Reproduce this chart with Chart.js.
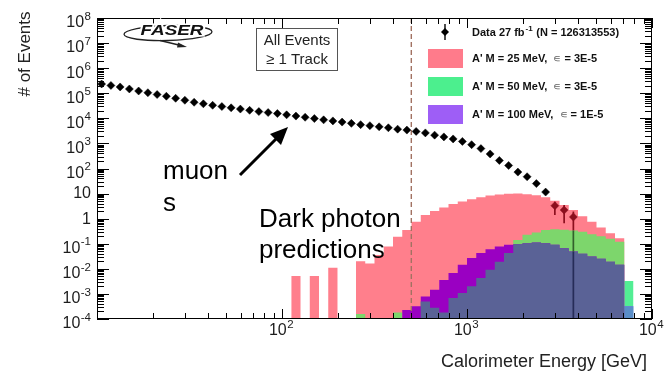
<!DOCTYPE html>
<html><head><meta charset="utf-8">
<script src="https://cdn.jsdelivr.net/npm/chart.js@4.4.1/dist/chart.umd.min.js"></script>
<style>html,body{margin:0;padding:0;background:#fff;}#wrap{width:664px;height:375px;}</style>
</head><body><div id="wrap"><canvas id="c" width="664" height="375"></canvas></div>
<script>
// ---------- DATA ----------
const dataEnergyGeV = [10.59, 11.89, 13.34, 14.96, 16.79, 18.84, 21.13, 23.71, 26.61, 29.85, 33.50, 37.58, 42.17, 47.32, 53.09, 59.57, 66.83, 74.99, 84.14, 94.41, 105.9, 118.9, 133.4, 149.6, 167.9, 188.4, 211.3, 237.1, 266.1, 298.5, 335.0, 375.8, 421.7, 473.2, 530.9, 595.7, 668.3, 749.9, 841.4, 944.1, 1059, 1189, 1334, 1496, 1679, 1884, 2113, 2371, 2661, 2985, 3350, 3758];
const dataEvents = [234000, 204000, 178000, 148000, 123000, 105000, 89000, 76000, 63000, 52500, 43600, 38000, 33100, 29500, 26300, 23400, 20900, 18600, 17000, 15500, 13800, 12300, 11000, 9800, 8700, 7900, 7100, 6300, 5600, 5100, 4600, 4200, 3700, 3400, 3000, 2630, 2140, 1820, 1510, 1200, 890, 620, 380, 209, 132, 72, 47, 25, 11.5, 3.3, 2.2, 1.17];
const dataErrUp = [0,0,0,0,0,0,0,0,0,0, 0,0,0,0,0,0,0,0,0,0, 0,0,0,0,0,0,0,0,0,0, 0,0,0,0,0,0,0,0,0,0, 0,0,0,0,0,0,0,0,0, 1.4, 1.3, 0.75];
const dataErrDown = [0,0,0,0,0,0,0,0,0,0, 0,0,0,0,0,0,0,0,0,0, 0,0,0,0,0,0,0,0,0,0, 0,0,0,0,0,0,0,0,0,0, 0,0,0,0,0,0,0,0,0, 1.9, 1.55, 1.17];

// prediction histogram bin edges (GeV)
const binEdges = [112.2, 125.9, 141.3, 158.5, 177.8, 199.5, 223.9, 251.2, 281.8, 316.2, 354.8, 398.1, 446.7, 501.2, 562.3, 631.0, 707.9, 794.3, 891.3, 1000, 1122, 1259, 1413, 1585, 1778, 1995, 2239, 2512, 2818, 3162, 3548, 3981, 4467, 5012, 5623, 6310, 7079, 7943];
const pred25MeV = [0.0052, 0, 0.0052, 0, 0.011, 0, 0, 0.020, 0.0165, 0.036, 0.078, 0.19, 0.35, 0.76, 1.4, 2.0, 2.8, 3.8, 4.8, 6.0, 7.2, 8.3, 9.1, 9.8, 10.0, 9.5, 8.5, 7.1, 5.2, 3.5, 2.2, 1.26, 0.76, 0.44, 0.26, 0.166, 0];
const pred50MeV = [0, 0, 0, 0, 0, 0, 0, 1.6e-4, 0, 0, 0, 1.8e-4, 0, 0, 5.0e-4, 2.8e-4, 1.8e-4, 6.8e-4, 1.1e-3, 2.0e-3, 4.3e-3, 9.1e-3, 0.019, 0.043, 0.14, 0.23, 0.28, 0.35, 0.38, 0.36, 0.34, 0.30, 0.24, 0.20, 0.16, 0.12, 3.3e-3];
const pred100MeV = [0, 0, 0, 0, 0, 0, 0, 0, 0, 0, 0, 0, 2.3e-4, 3.2e-4, 7.9e-4, 1.45e-3, 3.6e-3, 6.8e-3, 0.0145, 0.027, 0.043, 0.060, 0.078, 0.091, 0.095, 0.105, 0.112, 0.105, 0.091, 0.066, 0.049, 0.040, 0.031, 0.025, 0.019, 0.0145, 3.2e-4];

const cutEnergy = 500;
const yTickExps = [8, 7, 6, 5, 4, 3, 2, 1, 0, -1, -2, -3, -4];
const xTickExps = [2, 3, 4];
const legendLabels = ["Data 27 fb", "A' M = 25 MeV,", "A' M = 50 MeV,", "A' M = 100 MeV,"];
const legendEps = ["3E-5", "3E-5", "1E-5"];

// ---------- STYLE ----------
const COL = {pink:'#ff7f8c', green:'#7dd66c', mint:'#52ee94', magenta:'#9a00c2', violet:'#9e5ef6', slate:'#5a6296', steel:'#5a8ec8'};
const LEG = {pink:'#ff7b8b', green:'#4cef8e', violet:'#9e5ef6'};
const F = (s, w) => `${w||''} ${s}px "Liberation Sans", Arial, sans-serif`;
const EMPTY = 1e-9;

function histPoints(vals){
  const pts = [];
  for (let i = 0; i < vals.length; i++) pts.push({x: binEdges[i], y: vals[i] > 0 ? vals[i] : EMPTY});
  const last = vals[vals.length-1];
  pts.push({x: binEdges[vals.length], y: last > 0 ? last : EMPTY});
  return pts;
}
const withPink = v => v.map((y,i) => pred25MeV[i] > 0 ? y : 0);
const noPink = v => v.map((y,i) => pred25MeV[i] > 0 ? 0 : y);
const overlap = pred50MeV.map((g,i) => Math.min(g, pred100MeV[i]));
function histDS(label, vals, color, order){
  return {label, data: histPoints(vals), stepped: 'before', fill: 'start', backgroundColor: color,
          borderColor: 'rgba(0,0,0,0)', borderWidth: 0, pointRadius: 0, pointHoverRadius: 0, order};
}
function binIndex(E){
  for (let i = 0; i < binEdges.length-1; i++) if (E >= binEdges[i] && E < binEdges[i+1]) return i;
  return -1;
}
function colorAt(i, v){
  if (i < 0) return '#000';
  const p = pred25MeV[i], g = pred50MeV[i], q = pred100MeV[i];
  if (v > p) return '#000';
  if (v > Math.max(g,q)) return '#8c0f1e';
  if (v > Math.min(g,q)) return g > q ? '#33602c' : '#4a0066';
  return '#262c58';
}
const pointColors = dataEvents.map((v,k) => colorAt(binIndex(dataEnergyGeV[k]), v));

const DATA_IDX = 7;
const decor = {
  id: 'decor',
  beforeDatasetDraw(chart, args){
    if (args.index !== DATA_IDX) return;
    const ctx = chart.ctx, a = chart.chartArea, xs = chart.scales.x, ys = chart.scales.y;
    ctx.save();
    ctx.beginPath(); ctx.rect(a.left, a.top, a.right-a.left, a.bottom-a.top); ctx.clip();
    const xc = xs.getPixelForValue(cutEnergy);
    ctx.setLineDash([5,3]); ctx.strokeStyle = '#a27262'; ctx.lineWidth = 1.4;
    ctx.beginPath(); ctx.moveTo(xc, a.top); ctx.lineTo(xc, a.bottom); ctx.stroke();
    ctx.setLineDash([]);
    ctx.lineWidth = 1.7;
    dataEvents.forEach((v,k) => {
      const up = dataErrUp[k], dn = dataErrDown[k];
      if (!up && !dn) return;
      const i = binIndex(dataEnergyGeV[k]);
      const hi = v + up, lo = v - dn;
      const x = xs.getPixelForValue(dataEnergyGeV[k]);
      const cuts = [hi];
      if (i >= 0) {
        [pred25MeV[i], Math.max(pred50MeV[i], pred100MeV[i]), Math.min(pred50MeV[i], pred100MeV[i])]
          .forEach(L => { if (L > 0 && L < hi && L > lo) cuts.push(L); });
      }
      cuts.sort((p,q) => q-p);
      cuts.push(lo);
      for (let j = 0; j < cuts.length-1; j++){
        const t = cuts[j], b = cuts[j+1];
        const yt = ys.getPixelForValue(t), yb = b > 0 ? ys.getPixelForValue(b) : a.bottom;
        const mid = b > 0 ? Math.sqrt(t*b) : t*0.5;
        ctx.strokeStyle = colorAt(i, mid);
        ctx.beginPath(); ctx.moveTo(x, yt); ctx.lineTo(x, yb); ctx.stroke();
      }
    });
    ctx.restore();
  },
  afterDraw(chart){
    const ctx = chart.ctx, a = chart.chartArea, xs = chart.scales.x, ys = chart.scales.y;
    ctx.save();
    ctx.strokeStyle = '#000'; ctx.lineWidth = 1;
    ctx.strokeRect(a.left+0.5, a.top+0.5, a.right-a.left-1, a.bottom-a.top-1);
    ctx.beginPath();
    for (let e = 1; e <= 4; e++) for (let m = 1; m <= 9; m++){
      const v = m*Math.pow(10,e); if (v < 10 || v > 10000) continue;
      const x = Math.round(xs.getPixelForValue(v)) + 0.5;
      const L = m === 1 ? 10 : 6;
      ctx.moveTo(x, a.bottom); ctx.lineTo(x, a.bottom-L);
      ctx.moveTo(x, a.top); ctx.lineTo(x, a.top+L);
    }
    for (let e = -4; e <= 8; e++) for (let m = 1; m <= 9; m++){
      const v = m*Math.pow(10,e); if (v > 1e8*1.0001) continue;
      const y = Math.round(ys.getPixelForValue(v)) + 0.5;
      const L = m === 1 ? 12 : 7;
      ctx.moveTo(a.left, y); ctx.lineTo(a.left+L, y);
      ctx.moveTo(a.right, y); ctx.lineTo(a.right-L, y);
    }
    ctx.stroke();

    ctx.fillStyle = '#1c1c1c'; ctx.textBaseline = 'middle';
    const R = a.left - 6;
    yTickExps.forEach(e => {
      const y = ys.getPixelForValue(Math.pow(10, e));
      if (e === 0 || e === 1){
        ctx.font = F(16); ctx.textAlign = 'right';
        ctx.fillText(e === 0 ? '1' : '10', R, y+0.5);
      } else {
        const es = String(e);
        ctx.font = F(11.5); const we = ctx.measureText(es).width;
        ctx.textAlign = 'left'; ctx.fillText(es, R-we, y-1.5);
        ctx.font = F(16); ctx.textAlign = 'right'; ctx.fillText('10', R-we-0.5, y+5);
      }
    });
    xTickExps.forEach(e => {
      const x = xs.getPixelForValue(Math.pow(10, e));
      ctx.font = F(16); const wb = ctx.measureText('10').width;
      ctx.font = F(11.5); const we = ctx.measureText(String(e)).width;
      const s = x - (wb+we)/2 - 1;
      ctx.textAlign = 'left';
      ctx.font = F(16); ctx.fillText('10', s, a.bottom+12);
      ctx.font = F(11.5); ctx.fillText(String(e), s+wb+0.5, a.bottom+6);
    });
    ctx.font = F(18); ctx.textAlign = 'right'; ctx.fillStyle = '#222';
    ctx.fillText('Calorimeter Energy [GeV]', 647, 362);
    ctx.save(); ctx.translate(25, 54); ctx.rotate(-Math.PI/2);
    ctx.font = F(17); ctx.textAlign = 'center'; ctx.fillText('# of Events', 0, 0);
    ctx.restore();

    // legend
    ctx.fillStyle = '#000'; ctx.strokeStyle = '#000'; ctx.lineWidth = 1.4;
    ctx.beginPath(); ctx.moveTo(445, 24); ctx.lineTo(445, 40); ctx.stroke();
    ctx.beginPath(); ctx.moveTo(445, 28); ctx.lineTo(449, 32); ctx.lineTo(445, 36); ctx.lineTo(441, 32); ctx.closePath(); ctx.fill();
    const lx = 472;
    ctx.textAlign = 'left'; ctx.textBaseline = 'middle'; ctx.fillStyle = '#111';
    ctx.font = F(11, 'bold'); ctx.fillText(legendLabels[0], lx, 33);
    const w = ctx.measureText(legendLabels[0]).width;
    ctx.font = F(8, 'bold'); ctx.fillText('-1', lx+w+1, 29);
    const w2 = ctx.measureText('-1').width;
    ctx.font = F(11, 'bold'); ctx.fillText(' (N = 126313553)', lx+w+w2+1.5, 33);
    const sw = [LEG.pink, LEG.green, LEG.violet];
    const rowsY = [59, 87, 115];
    for (let r = 0; r < 3; r++){
      ctx.fillStyle = sw[r]; ctx.fillRect(428, rowsY[r]-10, 35, 19);
      ctx.fillStyle = '#111'; ctx.font = F(11, 'bold');
      const t1 = legendLabels[r+1] + '  ';
      ctx.fillText(t1, lx, rowsY[r]);
      let x2 = lx + ctx.measureText(t1).width;
      ctx.fillStyle = '#666'; ctx.font = F(10.5); ctx.fillText('\u220A', x2, rowsY[r]);
      x2 += ctx.measureText('\u220A').width;
      ctx.fillStyle = '#111'; ctx.font = F(11, 'bold'); ctx.fillText(' = ' + legendEps[r], x2, rowsY[r]);
    }

    // FASER logo
    ctx.strokeStyle = '#222'; ctx.lineWidth = 1.3;
    ctx.beginPath(); ctx.ellipse(168, 33, 44, 7.5, -0.03, 0, Math.PI*2); ctx.stroke();
    ctx.beginPath(); ctx.moveTo(160, 40.5); ctx.lineTo(183, 46); ctx.stroke();
    ctx.fillStyle = '#222';
    ctx.beginPath(); ctx.moveTo(187, 47); ctx.lineTo(178, 42.5); ctx.lineTo(177, 47.5); ctx.closePath(); ctx.fill();
    ctx.save(); ctx.translate(172, 31.5); ctx.scale(1.35, 1);
    ctx.font = F(14, 'bold italic'); ctx.textAlign = 'center'; ctx.textBaseline = 'middle';
    ctx.lineWidth = 3; ctx.strokeStyle = '#fff'; ctx.strokeText('FASER', 0, 0);
    ctx.fillStyle = '#111'; ctx.fillText('FASER', 0, 0);
    ctx.restore();

    // selection box
    ctx.strokeStyle = '#555'; ctx.lineWidth = 1;
    ctx.strokeRect(256.5, 28.5, 81, 42);
    ctx.fillStyle = '#222'; ctx.font = F(15); ctx.textAlign = 'center'; ctx.textBaseline = 'middle';
    ctx.fillText('All Events', 297, 40.5);
    ctx.fillText('\u2265 1 Track', 297, 59.5);

    // annotations
    ctx.fillStyle = '#000'; ctx.font = F(26); ctx.textAlign = 'left'; ctx.textBaseline = 'alphabetic';
    ctx.fillText('muon', 163, 179);
    ctx.fillText('s', 163, 211);
    ctx.fillText('Dark photon', 259, 227);
    ctx.fillText('predictions', 259, 258);
    ctx.strokeStyle = '#000'; ctx.lineWidth = 3;
    ctx.beginPath(); ctx.moveTo(240, 175); ctx.lineTo(279, 136); ctx.stroke();
    ctx.beginPath(); ctx.moveTo(288, 127); ctx.lineTo(270, 134); ctx.lineTo(281, 145); ctx.closePath(); ctx.fill();
    ctx.restore();
  }
};

new Chart(document.getElementById('c'), {
  type: 'line',
  data: { datasets: [
    histDS('A\' M = 25 MeV', pred25MeV, COL.pink, 10),
    histDS('A\' M = 50 MeV', withPink(pred50MeV), COL.green, 9),
    histDS('A\' M = 50 MeV (tail)', noPink(pred50MeV), COL.mint, 9),
    histDS('A\' M = 100 MeV', withPink(pred100MeV), COL.magenta, 8),
    histDS('A\' M = 100 MeV (tail)', noPink(pred100MeV), COL.violet, 8),
    histDS('overlap', withPink(overlap), COL.slate, 7),
    histDS('overlap (tail)', noPink(overlap), COL.steel, 7),
    { label: 'Data', data: dataEnergyGeV.map((e,k) => ({x: e, y: dataEvents[k]})), showLine: false,
      pointStyle: 'rectRot', pointRadius: 4, pointHoverRadius: 4,
      pointBackgroundColor: pointColors, pointBorderColor: pointColors, pointBorderWidth: 0.5, order: 0 }
  ]},
  options: {
    responsive: false, devicePixelRatio: 1, animation: false,
    layout: { padding: { left: 97, right: 12, top: 18, bottom: 56 } },
    plugins: { legend: { display: false }, tooltip: { enabled: false } },
    scales: {
      x: { type: 'logarithmic', min: 10, max: 10000, display: false },
      y: { type: 'logarithmic', min: 1e-4, max: 1e8, display: false }
    }
  },
  plugins: [decor]
});
</script></body></html>
